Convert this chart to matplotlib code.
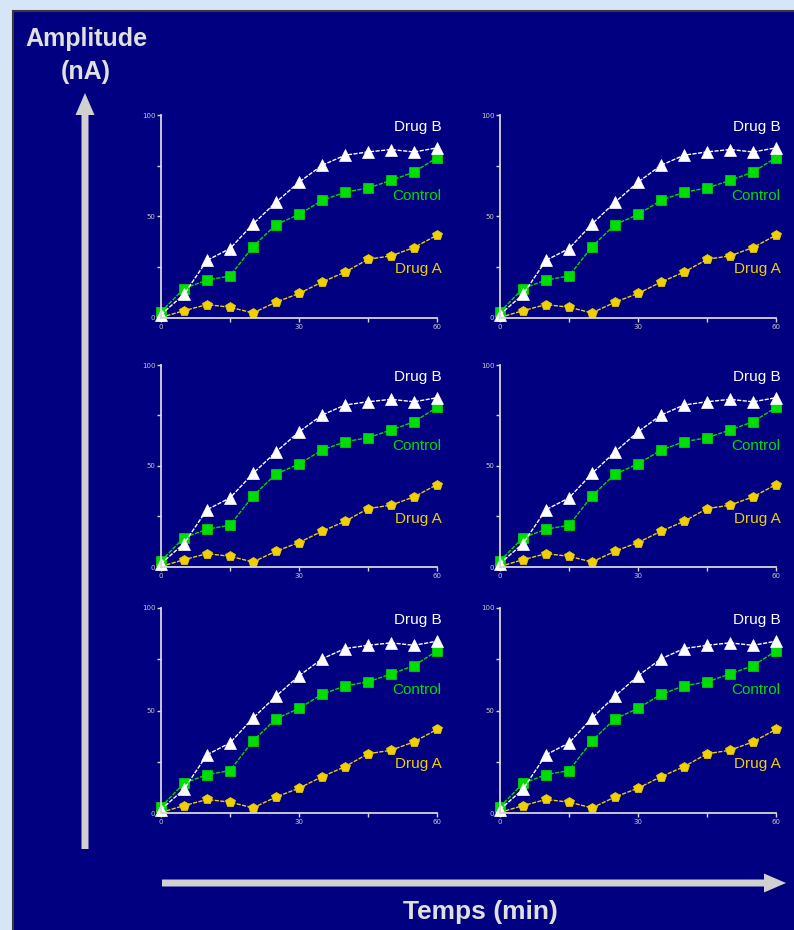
"""Six-panel amplitude vs time figure: Control / Drug A / Drug B curves."""

import matplotlib

matplotlib.use("Agg")
import matplotlib.pyplot as plt
from matplotlib.patches import FancyArrow, Rectangle

W, H = 794, 930

# time points (min) and amplitudes (nA), same recording shown in every panel
time_min = [0, 5, 10, 15, 20, 25, 30, 35, 40, 45, 50, 55, 60]
drug_b = [1.7, 11.6, 28.4, 34.2, 46.3, 57.0, 66.9, 75.2, 80.2, 81.8, 83.0, 81.8, 83.8]
control = [3.0, 14.5, 18.7, 20.7, 35.2, 46.0, 51.0, 57.9, 62.0, 64.0, 67.8, 71.9, 79.0]
drug_a = [0.3, 3.6, 6.6, 5.3, 2.5, 7.8, 12.1, 17.7, 22.6, 28.9, 30.6, 34.7, 40.8]

series_names = ["Drug A", "Control", "Drug B"]
label_y = [24, 60, 94]
x_ticks = [0, 30, 60]
y_ticks = [0, 50, 100]

NAVY = "#000080"
AXIS = "#d8d8d8"
colors = {"Drug A": "#f0d000", "Control": "#00dd00", "Drug B": "#ffffff"}
markers = {"Drug A": ("p", 7), "Control": ("s", 6.5), "Drug B": ("^", 8.5)}
values = {"Drug A": drug_a, "Control": control, "Drug B": drug_b}

# panel placement in pixels: (x of y-axis, x of t=60), (top, x-axis row)
cols = [(161, 437), (500, 776)]
rows = [(115, 318), (365, 567), (608, 813)]

fig = plt.figure(figsize=(W / 100, H / 100), dpi=100)
fig.patch.set_facecolor("#d6e6f6")

bg = fig.add_axes([0, 0, 1, 1], zorder=-1)
bg.set_xlim(0, W)
bg.set_ylim(H, 0)
bg.axis("off")
bg.add_patch(Rectangle((13, 11), W, H, facecolor=NAVY, edgecolor="#3a3a3a", lw=1.5))
bg.add_patch(FancyArrow(85, 849, 0, -756, width=7, head_width=19, head_length=22,
                        length_includes_head=True, color="#d0d0d0", lw=0))
bg.add_patch(FancyArrow(162, 883, 624, 0, width=7, head_width=19, head_length=22,
                        length_includes_head=True, color="#d0d0d0", lw=0))
bg.text(86, 39, "Amplitude", ha="center", va="center", fontsize=18,
        fontweight="bold", color="#e0e0e0", family=["Liberation Sans", "DejaVu Sans"])
bg.text(86, 72, "(nA)", ha="center", va="center", fontsize=18,
        fontweight="bold", color="#e0e0e0", family=["Liberation Sans", "DejaVu Sans"])
bg.text(480, 912, "Temps (min)", ha="center", va="center", fontsize=19,
        fontweight="bold", color="#e0e0e0",
        family=["Liberation Sans Narrow", "Liberation Sans", "DejaVu Sans"])

for top, bottom in rows:
    for x0, x1 in cols:
        ax = fig.add_axes([x0 / W, 1 - bottom / H, (x1 - x0) / W, (bottom - top) / H])
        ax.set_facecolor("none")
        for name, ly in zip(series_names, label_y):
            m, ms = markers[name]
            ax.plot(time_min, values[name], color=colors[name], lw=1,
                    dashes=(3, 1), marker=m, ms=ms, mfc=colors[name],
                    mec=colors[name], mew=0.5, clip_on=False)
            ax.text(61, ly, name, ha="right", va="center", fontsize=11,
                    color=colors[name], family=["Liberation Sans", "DejaVu Sans"])
        ax.set_xlim(0, 60)
        ax.set_ylim(0, 100)
        ax.set_xticks(x_ticks)
        ax.set_xticks([15, 45], minor=True)
        ax.set_yticks(y_ticks)
        ax.set_yticks([25, 75], minor=True)
        for side in ("top", "right"):
            ax.spines[side].set_visible(False)
        for side in ("left", "bottom"):
            ax.spines[side].set_color(AXIS)
            ax.spines[side].set_linewidth(1.3)
        ax.tick_params(which="both", colors=AXIS, length=3, width=1, pad=1,
                       labelsize=5, labelcolor="#c8c8c8")

fig.savefig("out.png", dpi=100, facecolor=fig.get_facecolor())
